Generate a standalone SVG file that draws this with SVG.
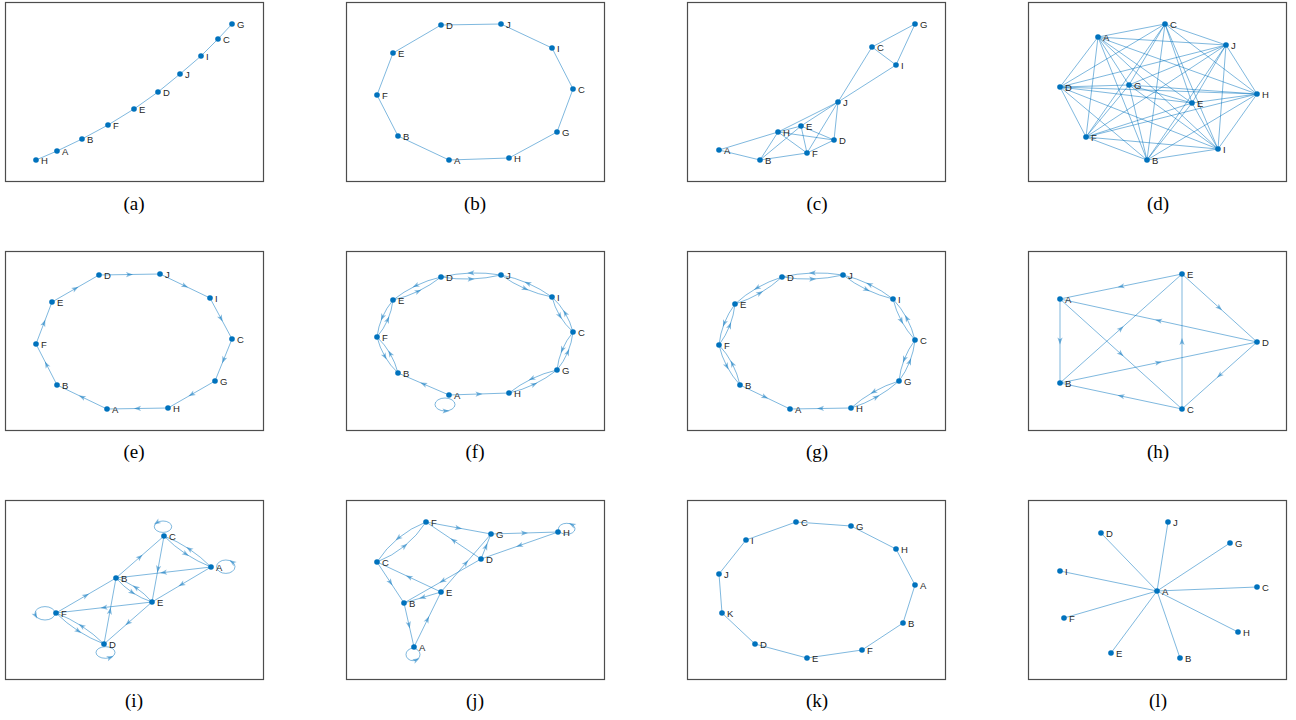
<svg xmlns="http://www.w3.org/2000/svg" xmlns:xlink="http://www.w3.org/1999/xlink" width="1296" height="720" viewBox="0 0 1296 720">
<style>
.fr{fill:none;stroke:#4d4d4d;stroke-width:1.2}
.e{fill:none;stroke:#0072BD;stroke-opacity:0.5;stroke-width:1}
.d{marker-mid:url(#m)}
.n circle{fill:#0072BD}
.n text{font-family:"Liberation Sans",Arial,sans-serif;font-size:9.5px;fill:#262626}
.cap{font-family:"Liberation Serif","Times New Roman",serif;font-size:19px;fill:#000;text-anchor:middle}
</style>
<defs>
<marker id="m" markerUnits="userSpaceOnUse" markerWidth="10" markerHeight="10" viewBox="-5 -5 10 10" refX="0" refY="0" orient="auto" overflow="visible"><path d="M3.5,0L-3.5,-2.6L-1.8,0L-3.5,2.6Z" fill="#0072BD" fill-opacity="0.5"/></marker>
<path id="ah" d="M3.5,0L-3.5,-2.6L-1.8,0L-3.5,2.6Z" fill="#0072BD" fill-opacity="0.5"/>
</defs>
<rect width="1296" height="720" fill="#fff"/>
<g id="frames">
<rect class="fr" x="5.5" y="2.5" width="258" height="179"/>
<rect class="fr" x="346.5" y="2.5" width="258" height="179"/>
<rect class="fr" x="687.5" y="2.5" width="258" height="179"/>
<rect class="fr" x="1028.5" y="2.5" width="258" height="179"/>
<rect class="fr" x="5.5" y="251.5" width="258" height="179"/>
<rect class="fr" x="346.5" y="251.5" width="258" height="179"/>
<rect class="fr" x="687.5" y="251.5" width="258" height="179"/>
<rect class="fr" x="1028.5" y="251.5" width="258" height="179"/>
<rect class="fr" x="5.5" y="500.5" width="258" height="179"/>
<rect class="fr" x="346.5" y="500.5" width="258" height="179"/>
<rect class="fr" x="687.5" y="500.5" width="258" height="179"/>
<rect class="fr" x="1028.5" y="500.5" width="258" height="179"/>
</g>
<g id="captions">
<text class="cap" x="134" y="210">(a)</text>
<text class="cap" x="475" y="210">(b)</text>
<text class="cap" x="817" y="210">(c)</text>
<text class="cap" x="1158" y="210">(d)</text>
<text class="cap" x="134" y="458">(e)</text>
<text class="cap" x="475" y="458">(f)</text>
<text class="cap" x="817" y="458">(g)</text>
<text class="cap" x="1158" y="458">(h)</text>
<text class="cap" x="134" y="707">(i)</text>
<text class="cap" x="475" y="707">(j)</text>
<text class="cap" x="817" y="707">(k)</text>
<text class="cap" x="1158" y="707">(l)</text>
</g>
<g id="connectors">
<!-- a -->
<path class="e" d="M36,160L57,151L82,139L108,125L134,109L158,92L180,74L201,56L218,39L232,24"/>
<!-- b -->
<path class="e" d="M441,25L501,24L552,48L573,89L557,132L509,158L449,160L398,136L377,95L393,53Z"/>
<!-- c -->
<path class="e" d="M719,150L778,132"/><path class="e" d="M719,150L760,160"/><path class="e" d="M760,160L778,132"/>
<path class="e" d="M760,160L801,126"/><path class="e" d="M760,160L807,153"/><path class="e" d="M778,132L801,126"/>
<path class="e" d="M778,132L838,102"/><path class="e" d="M778,132L834,140"/><path class="e" d="M778,132L807,153"/>
<path class="e" d="M801,126L838,102"/><path class="e" d="M801,126L807,153"/><path class="e" d="M801,126L834,140"/>
<path class="e" d="M807,153L834,140"/><path class="e" d="M807,153L838,102"/><path class="e" d="M834,140L838,102"/>
<path class="e" d="M838,102L872,47"/><path class="e" d="M838,102L896,65"/><path class="e" d="M872,47L896,65"/>
<path class="e" d="M872,47L915,24"/><path class="e" d="M896,65L915,24"/>
<!-- d -->
<path class="e" d="M1165,24L1098,37"/><path class="e" d="M1165,24L1226,45"/><path class="e" d="M1165,24L1060,87"/><path class="e" d="M1165,24L1129,85"/><path class="e" d="M1165,24L1257,94"/><path class="e" d="M1165,24L1192,103"/><path class="e" d="M1165,24L1086,137"/><path class="e" d="M1165,24L1218,149"/><path class="e" d="M1165,24L1147,160"/>
<path class="e" d="M1098,37L1226,45"/><path class="e" d="M1098,37L1060,87"/><path class="e" d="M1098,37L1129,85"/><path class="e" d="M1098,37L1257,94"/><path class="e" d="M1098,37L1192,103"/><path class="e" d="M1098,37L1086,137"/><path class="e" d="M1098,37L1218,149"/><path class="e" d="M1098,37L1147,160"/>
<path class="e" d="M1226,45L1060,87"/><path class="e" d="M1226,45L1129,85"/><path class="e" d="M1226,45L1257,94"/><path class="e" d="M1226,45L1192,103"/><path class="e" d="M1226,45L1086,137"/><path class="e" d="M1226,45L1218,149"/><path class="e" d="M1226,45L1147,160"/>
<path class="e" d="M1060,87L1129,85"/><path class="e" d="M1060,87L1257,94"/><path class="e" d="M1060,87L1192,103"/><path class="e" d="M1060,87L1086,137"/><path class="e" d="M1060,87L1218,149"/><path class="e" d="M1060,87L1147,160"/>
<path class="e" d="M1129,85L1257,94"/><path class="e" d="M1129,85L1192,103"/><path class="e" d="M1129,85L1086,137"/><path class="e" d="M1129,85L1218,149"/><path class="e" d="M1129,85L1147,160"/>
<path class="e" d="M1257,94L1192,103"/><path class="e" d="M1257,94L1086,137"/><path class="e" d="M1257,94L1218,149"/><path class="e" d="M1257,94L1147,160"/>
<path class="e" d="M1192,103L1086,137"/><path class="e" d="M1192,103L1218,149"/><path class="e" d="M1192,103L1147,160"/>
<path class="e" d="M1086,137L1218,149"/><path class="e" d="M1086,137L1147,160"/><path class="e" d="M1218,149L1147,160"/>
<!-- e -->
<path class="e d" d="M99,275L129.5,274.5L160,274"/>
<path class="e d" d="M160,274L185,286L210,298"/>
<path class="e d" d="M210,298L221,318.5L232,339"/>
<path class="e d" d="M232,339L223.5,360L215,381"/>
<path class="e d" d="M215,381L191.5,394.5L168,408"/>
<path class="e d" d="M168,408L137.5,408.5L107,409"/>
<path class="e d" d="M107,409L82,397L57,385"/>
<path class="e d" d="M57,385L46.5,364.5L36,344"/>
<path class="e d" d="M36,344L44,323L52,302"/>
<path class="e d" d="M52,302L75.5,288.5L99,275"/>
<!-- f -->
<path class="e d" d="M441,277Q456.1,279.5 471.1,279T501,275"/>
<path class="e d" d="M501,275Q485.9,272.5 470.9,273T441,277"/>
<path class="e d" d="M501,275Q512.6,283.3 525.3,288.8T552,297"/>
<path class="e d" d="M552,297Q540.4,288.7 527.7,283.2T501,275"/>
<path class="e d" d="M552,297Q554.7,307.3 559.9,316T573,332"/>
<path class="e d" d="M573,332Q570.3,321.7 565.1,313T552,297"/>
<path class="e d" d="M573,332Q566.2,340.3 562.2,349.8T557,370"/>
<path class="e d" d="M557,370Q563.8,361.7 567.8,352.2T573,332"/>
<path class="e d" d="M557,370Q543.7,373 531.7,378.8T509,393"/>
<path class="e d" d="M509,393Q522.3,390 534.3,384.2T557,370"/>
<path class="e d" d="M398,373Q395.3,362.5 390.1,353.5T377,337"/>
<path class="e d" d="M377,337Q379.7,347.5 384.9,356.5T398,373"/>
<path class="e d" d="M377,337Q383.8,328.9 387.8,319.7T393,300"/>
<path class="e d" d="M393,300Q386.3,308.1 382.3,317.3T377,337"/>
<path class="e d" d="M393,300Q406.3,297 418.3,291.2T441,277"/>
<path class="e d" d="M441,277Q427.7,280 415.7,285.8T393,300"/>
<path class="e d" d="M449,395L423.5,384L398,373"/>
<path class="e d" d="M449,395L479,394L509,393"/>
<ellipse class="e" cx="445" cy="404.5" rx="10" ry="6.5"/>
<use xlink:href="#ah" transform="translate(446,411)"/>
<!-- g -->
<path class="e d" d="M782,277Q797.4,279.5 812.6,279T843,275"/>
<path class="e d" d="M843,275Q827.7,272.5 812.4,273T782,277"/>
<path class="e d" d="M843,275Q854.2,283.7 866.7,289.7T893,299"/>
<path class="e d" d="M893,299Q881.8,290.3 869.3,284.3T843,275"/>
<path class="e d" d="M893,299Q895.9,310.7 901.4,320.9T915,340"/>
<path class="e d" d="M915,340Q912.2,328.3 906.7,318.1T893,299"/>
<path class="e d" d="M915,340Q908.2,349.2 904.2,359.4T899,381"/>
<path class="e d" d="M899,381Q905.8,371.8 909.8,361.6T915,340"/>
<path class="e d" d="M899,381Q885.5,385.1 873.5,391.9T851,408"/>
<path class="e d" d="M851,408Q864.5,403.9 876.5,397.1T899,381"/>
<path class="e d" d="M740,385Q737.4,373.6 732.2,363.6T719,345"/>
<path class="e d" d="M719,345Q721.6,356.4 726.9,366.4T740,385"/>
<path class="e d" d="M719,345Q725.8,335.8 729.8,325.6T735,304"/>
<path class="e d" d="M735,304Q728.2,313.2 724.2,323.4T719,345"/>
<path class="e d" d="M735,304Q748.2,299.9 760,293.1T782,277"/>
<path class="e d" d="M782,277Q768.8,281.2 757,287.9T735,304"/>
<path class="e d" d="M740,385L765,397L790,409"/>
<path class="e d" d="M851,408L820.5,408.5L790,409"/>
<!-- h -->
<path class="e d" d="M1182,274L1121,286.5L1060,299"/>
<path class="e d" d="M1182,274L1219.5,308L1257,342"/>
<path class="e d" d="M1257,342L1158.5,320.5L1060,299"/>
<path class="e d" d="M1060,299L1060,341L1060,383"/>
<path class="e d" d="M1060,299L1121,354L1182,409"/>
<path class="e d" d="M1060,383L1121,328.5L1182,274"/>
<path class="e d" d="M1060,383L1158.5,362.5L1257,342"/>
<path class="e d" d="M1182,409L1121,396L1060,383"/>
<path class="e d" d="M1182,409L1182,341.5L1182,274"/>
<path class="e d" d="M1257,342L1219.5,375.5L1182,409"/>
<!-- i -->
<path class="e d" d="M116,578L140,557L164,536"/>
<path class="e d" d="M164,536L158,569L152,602"/>
<path class="e d" d="M211,567L163.5,572.5L116,578"/>
<path class="e d" d="M211,567L181.5,584.5L152,602"/>
<path class="e d" d="M56,613L86,595.5L116,578"/>
<path class="e d" d="M152,602L104,607.5L56,613"/>
<path class="e d" d="M104,644L110,611L116,578"/>
<path class="e d" d="M152,602L128,623L104,644"/>
<path class="e d" d="M164,536Q174.1,546.3 185.9,554T211,567"/>
<path class="e d" d="M211,567Q200.9,556.8 189.2,549T164,536"/>
<path class="e d" d="M116,578Q123.3,586.5 132.3,592.5T152,602"/>
<path class="e d" d="M152,602Q144.7,593.5 135.7,587.5T116,578"/>
<path class="e d" d="M56,613Q66.4,623.3 78.4,631T104,644"/>
<path class="e d" d="M104,644Q93.6,633.7 81.6,626T56,613"/>
<ellipse class="e" cx="163" cy="526.7" rx="8.7" ry="5.7"/>
<use xlink:href="#ah" transform="translate(156.8,522.7) rotate(147)"/>
<ellipse class="e" cx="225.8" cy="566.7" rx="9.2" ry="6.7"/>
<use xlink:href="#ah" transform="translate(232.3,562) rotate(-144)"/>
<ellipse class="e" cx="45" cy="613.3" rx="10" ry="6.7"/>
<use xlink:href="#ah" transform="translate(35.6,615.6) rotate(61)"/>
<ellipse class="e" cx="105.5" cy="652.5" rx="9.5" ry="5.8"/>
<use xlink:href="#ah" transform="translate(110.3,657.5) rotate(-20)"/>
<!-- j -->
<path class="e d" d="M426,522Q410.6,528.1 398.3,538.1T377,562"/>
<path class="e d" d="M377,562Q392.4,555.9 404.7,545.9T426,522"/>
<path class="e d" d="M426,522L458.5,528L491,534"/>
<path class="e d" d="M481,559L453.5,540.5L426,522"/>
<path class="e d" d="M491,534L524.5,533L558,532"/>
<path class="e d" d="M558,532L519.5,545.5L481,559"/>
<path class="e d" d="M481,559L486,546.5L491,534"/>
<path class="e d" d="M441,592L466,563L491,534"/>
<path class="e d" d="M481,559L442.5,581L404,603"/>
<path class="e d" d="M441,592L409,577L377,562"/>
<path class="e d" d="M377,562L390.5,582.5L404,603"/>
<path class="e d" d="M441,592L422.5,597.5L404,603"/>
<path class="e d" d="M404,603L409,625L414,647"/>
<path class="e d" d="M414,647L427.5,619.5L441,592"/>
<ellipse class="e" cx="566.7" cy="528.8" rx="8.3" ry="5.5"/>
<use xlink:href="#ah" transform="translate(572,524.6) rotate(-151)"/>
<ellipse class="e" cx="413" cy="654.5" rx="7" ry="6.2"/>
<use xlink:href="#ah" transform="translate(416.5,659.9) rotate(-27)"/>
<!-- k -->
<path class="e" d="M796,522L851,526L896,549L915,585L903,623L862,650L807,658L755,644L722,613L719,574L746,540Z"/>
<!-- l -->
<path class="e" d="M1157,591L1168,522"/><path class="e" d="M1157,591L1101,533"/><path class="e" d="M1157,591L1230,543"/>
<path class="e" d="M1157,591L1060,571"/><path class="e" d="M1157,591L1257,587"/><path class="e" d="M1157,591L1064,618"/>
<path class="e" d="M1157,591L1238,632"/><path class="e" d="M1157,591L1111,653"/><path class="e" d="M1157,591L1180,658"/>
</g>
<g id="nodes">
<!-- a -->
<g id="a-H" class="n"><circle cx="36" cy="160" r="2.8"/><text x="41" y="164">H</text></g>
<g id="a-A" class="n"><circle cx="57" cy="151" r="2.8"/><text x="62" y="155">A</text></g>
<g id="a-B" class="n"><circle cx="82" cy="139" r="2.8"/><text x="87" y="143">B</text></g>
<g id="a-F" class="n"><circle cx="108" cy="125" r="2.8"/><text x="113" y="129">F</text></g>
<g id="a-E" class="n"><circle cx="134" cy="109" r="2.8"/><text x="139" y="113">E</text></g>
<g id="a-D" class="n"><circle cx="158" cy="92" r="2.8"/><text x="163" y="96">D</text></g>
<g id="a-J" class="n"><circle cx="180" cy="74" r="2.8"/><text x="185" y="78">J</text></g>
<g id="a-I" class="n"><circle cx="201" cy="56" r="2.8"/><text x="206" y="60">I</text></g>
<g id="a-C" class="n"><circle cx="218" cy="39" r="2.8"/><text x="223" y="43">C</text></g>
<g id="a-G" class="n"><circle cx="232" cy="24" r="2.8"/><text x="237" y="28">G</text></g>
<!-- b -->
<g id="b-D" class="n"><circle cx="441" cy="25" r="2.8"/><text x="446" y="29">D</text></g>
<g id="b-J" class="n"><circle cx="501" cy="24" r="2.8"/><text x="506" y="28">J</text></g>
<g id="b-I" class="n"><circle cx="552" cy="48" r="2.8"/><text x="557" y="52">I</text></g>
<g id="b-C" class="n"><circle cx="573" cy="89" r="2.8"/><text x="578" y="93">C</text></g>
<g id="b-G" class="n"><circle cx="557" cy="132" r="2.8"/><text x="562" y="136">G</text></g>
<g id="b-H" class="n"><circle cx="509" cy="158" r="2.8"/><text x="514" y="162">H</text></g>
<g id="b-A" class="n"><circle cx="449" cy="160" r="2.8"/><text x="454" y="164">A</text></g>
<g id="b-B" class="n"><circle cx="398" cy="136" r="2.8"/><text x="403" y="140">B</text></g>
<g id="b-F" class="n"><circle cx="377" cy="95" r="2.8"/><text x="382" y="99">F</text></g>
<g id="b-E" class="n"><circle cx="393" cy="53" r="2.8"/><text x="398" y="57">E</text></g>
<!-- c -->
<g id="c-G" class="n"><circle cx="915" cy="24" r="2.8"/><text x="920" y="28">G</text></g>
<g id="c-C" class="n"><circle cx="872" cy="47" r="2.8"/><text x="877" y="51">C</text></g>
<g id="c-I" class="n"><circle cx="896" cy="65" r="2.8"/><text x="901" y="69">I</text></g>
<g id="c-J" class="n"><circle cx="838" cy="102" r="2.8"/><text x="843" y="106">J</text></g>
<g id="c-E" class="n"><circle cx="801" cy="126" r="2.8"/><text x="806" y="130">E</text></g>
<g id="c-H" class="n"><circle cx="778" cy="132" r="2.8"/><text x="783" y="136">H</text></g>
<g id="c-D" class="n"><circle cx="834" cy="140" r="2.8"/><text x="839" y="144">D</text></g>
<g id="c-A" class="n"><circle cx="719" cy="150" r="2.8"/><text x="724" y="154">A</text></g>
<g id="c-F" class="n"><circle cx="807" cy="153" r="2.8"/><text x="812" y="157">F</text></g>
<g id="c-B" class="n"><circle cx="760" cy="160" r="2.8"/><text x="765" y="164">B</text></g>
<!-- d -->
<g id="d-C" class="n"><circle cx="1165" cy="24" r="2.8"/><text x="1170" y="28">C</text></g>
<g id="d-A" class="n"><circle cx="1098" cy="37" r="2.8"/><text x="1103" y="41">A</text></g>
<g id="d-J" class="n"><circle cx="1226" cy="45" r="2.8"/><text x="1231" y="49">J</text></g>
<g id="d-D" class="n"><circle cx="1060" cy="87" r="2.8"/><text x="1065" y="91">D</text></g>
<g id="d-G" class="n"><circle cx="1129" cy="85" r="2.8"/><text x="1134" y="89">G</text></g>
<g id="d-H" class="n"><circle cx="1257" cy="94" r="2.8"/><text x="1262" y="98">H</text></g>
<g id="d-E" class="n"><circle cx="1192" cy="103" r="2.8"/><text x="1197" y="107">E</text></g>
<g id="d-F" class="n"><circle cx="1086" cy="137" r="2.8"/><text x="1091" y="141">F</text></g>
<g id="d-I" class="n"><circle cx="1218" cy="149" r="2.8"/><text x="1223" y="153">I</text></g>
<g id="d-B" class="n"><circle cx="1147" cy="160" r="2.8"/><text x="1152" y="164">B</text></g>
<!-- e -->
<g id="e-D" class="n"><circle cx="99" cy="275" r="2.8"/><text x="104" y="279">D</text></g>
<g id="e-J" class="n"><circle cx="160" cy="274" r="2.8"/><text x="165" y="278">J</text></g>
<g id="e-I" class="n"><circle cx="210" cy="298" r="2.8"/><text x="215" y="302">I</text></g>
<g id="e-C" class="n"><circle cx="232" cy="339" r="2.8"/><text x="237" y="343">C</text></g>
<g id="e-G" class="n"><circle cx="215" cy="381" r="2.8"/><text x="220" y="385">G</text></g>
<g id="e-H" class="n"><circle cx="168" cy="408" r="2.8"/><text x="173" y="412">H</text></g>
<g id="e-A" class="n"><circle cx="107" cy="409" r="2.8"/><text x="112" y="413">A</text></g>
<g id="e-B" class="n"><circle cx="57" cy="385" r="2.8"/><text x="62" y="389">B</text></g>
<g id="e-F" class="n"><circle cx="36" cy="344" r="2.8"/><text x="41" y="348">F</text></g>
<g id="e-E" class="n"><circle cx="52" cy="302" r="2.8"/><text x="57" y="306">E</text></g>
<!-- f -->
<g id="f-D" class="n"><circle cx="441" cy="277" r="2.8"/><text x="446" y="281">D</text></g>
<g id="f-J" class="n"><circle cx="501" cy="275" r="2.8"/><text x="506" y="279">J</text></g>
<g id="f-I" class="n"><circle cx="552" cy="297" r="2.8"/><text x="557" y="301">I</text></g>
<g id="f-C" class="n"><circle cx="573" cy="332" r="2.8"/><text x="578" y="336">C</text></g>
<g id="f-G" class="n"><circle cx="557" cy="370" r="2.8"/><text x="562" y="374">G</text></g>
<g id="f-H" class="n"><circle cx="509" cy="393" r="2.8"/><text x="514" y="397">H</text></g>
<g id="f-A" class="n"><circle cx="449" cy="395" r="2.8"/><text x="454" y="399">A</text></g>
<g id="f-B" class="n"><circle cx="398" cy="373" r="2.8"/><text x="403" y="377">B</text></g>
<g id="f-F" class="n"><circle cx="377" cy="337" r="2.8"/><text x="382" y="341">F</text></g>
<g id="f-E" class="n"><circle cx="393" cy="300" r="2.8"/><text x="398" y="304">E</text></g>
<!-- g -->
<g id="g-D" class="n"><circle cx="782" cy="277" r="2.8"/><text x="787" y="281">D</text></g>
<g id="g-J" class="n"><circle cx="843" cy="275" r="2.8"/><text x="848" y="279">J</text></g>
<g id="g-I" class="n"><circle cx="893" cy="299" r="2.8"/><text x="898" y="303">I</text></g>
<g id="g-C" class="n"><circle cx="915" cy="340" r="2.8"/><text x="920" y="344">C</text></g>
<g id="g-G" class="n"><circle cx="899" cy="381" r="2.8"/><text x="904" y="385">G</text></g>
<g id="g-H" class="n"><circle cx="851" cy="408" r="2.8"/><text x="856" y="412">H</text></g>
<g id="g-A" class="n"><circle cx="790" cy="409" r="2.8"/><text x="795" y="413">A</text></g>
<g id="g-B" class="n"><circle cx="740" cy="385" r="2.8"/><text x="745" y="389">B</text></g>
<g id="g-F" class="n"><circle cx="719" cy="345" r="2.8"/><text x="724" y="349">F</text></g>
<g id="g-E" class="n"><circle cx="735" cy="304" r="2.8"/><text x="740" y="308">E</text></g>
<!-- h -->
<g id="h-E" class="n"><circle cx="1182" cy="274" r="2.8"/><text x="1187" y="278">E</text></g>
<g id="h-A" class="n"><circle cx="1060" cy="299" r="2.8"/><text x="1065" y="303">A</text></g>
<g id="h-D" class="n"><circle cx="1257" cy="342" r="2.8"/><text x="1262" y="346">D</text></g>
<g id="h-B" class="n"><circle cx="1060" cy="383" r="2.8"/><text x="1065" y="387">B</text></g>
<g id="h-C" class="n"><circle cx="1182" cy="409" r="2.8"/><text x="1187" y="413">C</text></g>
<!-- i -->
<g id="i-C" class="n"><circle cx="164" cy="536" r="2.8"/><text x="169" y="540">C</text></g>
<g id="i-A" class="n"><circle cx="211" cy="567" r="2.8"/><text x="216" y="571">A</text></g>
<g id="i-B" class="n"><circle cx="116" cy="578" r="2.8"/><text x="121" y="582">B</text></g>
<g id="i-E" class="n"><circle cx="152" cy="602" r="2.8"/><text x="157" y="606">E</text></g>
<g id="i-F" class="n"><circle cx="56" cy="613" r="2.8"/><text x="61" y="617">F</text></g>
<g id="i-D" class="n"><circle cx="104" cy="644" r="2.8"/><text x="109" y="648">D</text></g>
<!-- j -->
<g id="j-F" class="n"><circle cx="426" cy="522" r="2.8"/><text x="431" y="526">F</text></g>
<g id="j-G" class="n"><circle cx="491" cy="534" r="2.8"/><text x="496" y="538">G</text></g>
<g id="j-H" class="n"><circle cx="558" cy="532" r="2.8"/><text x="563" y="536">H</text></g>
<g id="j-C" class="n"><circle cx="377" cy="562" r="2.8"/><text x="382" y="566">C</text></g>
<g id="j-D" class="n"><circle cx="481" cy="559" r="2.8"/><text x="486" y="563">D</text></g>
<g id="j-E" class="n"><circle cx="441" cy="592" r="2.8"/><text x="446" y="596">E</text></g>
<g id="j-B" class="n"><circle cx="404" cy="603" r="2.8"/><text x="409" y="607">B</text></g>
<g id="j-A" class="n"><circle cx="414" cy="647" r="2.8"/><text x="419" y="651">A</text></g>
<!-- k -->
<g id="k-C" class="n"><circle cx="796" cy="522" r="2.8"/><text x="801" y="526">C</text></g>
<g id="k-G" class="n"><circle cx="851" cy="526" r="2.8"/><text x="856" y="530">G</text></g>
<g id="k-H" class="n"><circle cx="896" cy="549" r="2.8"/><text x="901" y="553">H</text></g>
<g id="k-A" class="n"><circle cx="915" cy="585" r="2.8"/><text x="920" y="589">A</text></g>
<g id="k-B" class="n"><circle cx="903" cy="623" r="2.8"/><text x="908" y="627">B</text></g>
<g id="k-F" class="n"><circle cx="862" cy="650" r="2.8"/><text x="867" y="654">F</text></g>
<g id="k-E" class="n"><circle cx="807" cy="658" r="2.8"/><text x="812" y="662">E</text></g>
<g id="k-D" class="n"><circle cx="755" cy="644" r="2.8"/><text x="760" y="648">D</text></g>
<g id="k-K" class="n"><circle cx="722" cy="613" r="2.8"/><text x="727" y="617">K</text></g>
<g id="k-J" class="n"><circle cx="719" cy="574" r="2.8"/><text x="724" y="578">J</text></g>
<g id="k-I" class="n"><circle cx="746" cy="540" r="2.8"/><text x="751" y="544">I</text></g>
<!-- l -->
<g id="l-J" class="n"><circle cx="1168" cy="522" r="2.8"/><text x="1173" y="526">J</text></g>
<g id="l-D" class="n"><circle cx="1101" cy="533" r="2.8"/><text x="1106" y="537">D</text></g>
<g id="l-G" class="n"><circle cx="1230" cy="543" r="2.8"/><text x="1235" y="547">G</text></g>
<g id="l-I" class="n"><circle cx="1060" cy="571" r="2.8"/><text x="1065" y="575">I</text></g>
<g id="l-A" class="n"><circle cx="1157" cy="591" r="2.8"/><text x="1162" y="595">A</text></g>
<g id="l-C" class="n"><circle cx="1257" cy="587" r="2.8"/><text x="1262" y="591">C</text></g>
<g id="l-F" class="n"><circle cx="1064" cy="618" r="2.8"/><text x="1069" y="622">F</text></g>
<g id="l-H" class="n"><circle cx="1238" cy="632" r="2.8"/><text x="1243" y="636">H</text></g>
<g id="l-E" class="n"><circle cx="1111" cy="653" r="2.8"/><text x="1116" y="657">E</text></g>
<g id="l-B" class="n"><circle cx="1180" cy="658" r="2.8"/><text x="1185" y="662">B</text></g>
</g>
</svg>
